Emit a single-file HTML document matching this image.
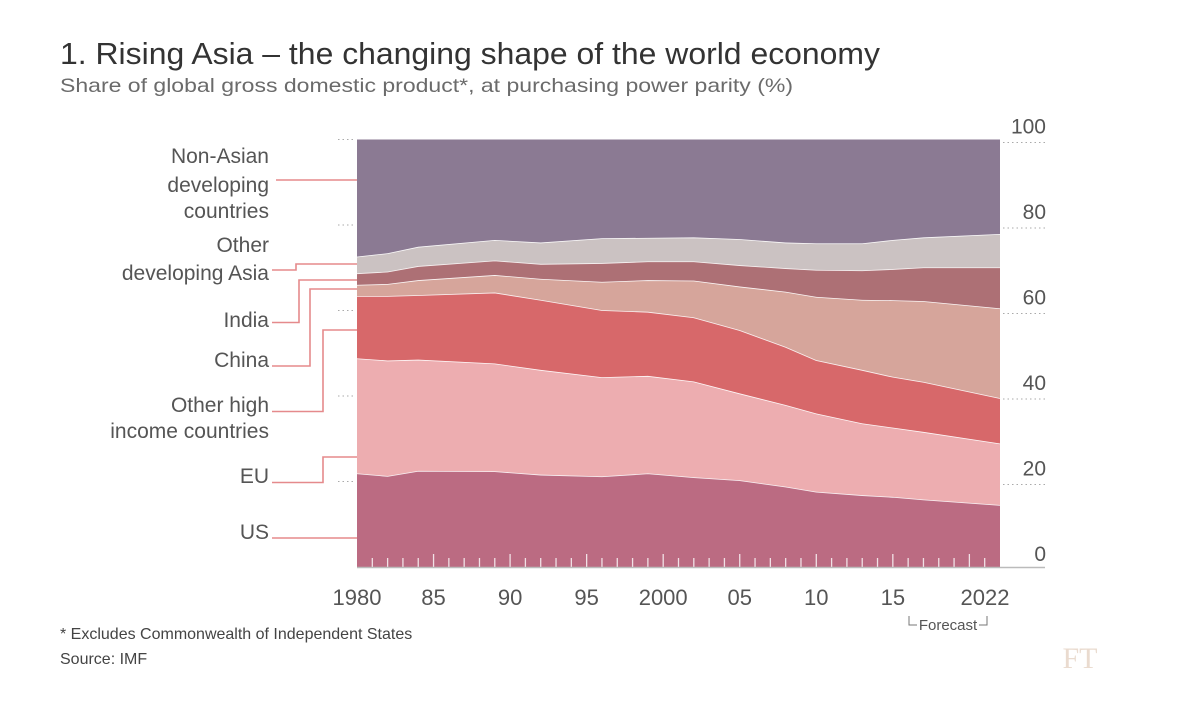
<!DOCTYPE html>
<html><head><meta charset="utf-8">
<style>
html,body{margin:0;padding:0;background:#fff;}
svg{display:block;font-family:"Liberation Sans",sans-serif;}
</style></head>
<body>
<svg id="chart" width="1200" height="711" viewBox="0 0 1200 711">
  <text x="60" y="64" font-size="31" fill="#333" textLength="820" lengthAdjust="spacingAndGlyphs">1. Rising Asia – the changing shape of the world economy</text>
  <text x="60" y="92" font-size="19.5" fill="#6b6b6b" textLength="733" lengthAdjust="spacingAndGlyphs">Share of global gross domestic product*, at purchasing power parity (%)</text>
  <g id="layers"></g>
  <g id="ticks"></g>
  <g id="yaxis"></g>
  <g id="xaxis"></g>
  <g id="labels"></g>
  <g>
    <path d="M909,616 V625 H917 M979,625 H987 V616" stroke="#777" stroke-width="1" fill="none"/>
    <text x="948" y="630" font-size="15" fill="#555" text-anchor="middle">Forecast</text>
  </g>
  <text x="60" y="639" font-size="16" fill="#444">* Excludes Commonwealth of Independent States</text>
  <text x="60" y="664" font-size="16" fill="#444">Source: IMF</text>
  <text x="1080" y="668" font-size="30" fill="#eadbcf" font-family="Liberation Serif, serif" text-anchor="middle">FT</text>
</svg>
<script>
const years = [1980,1982,1984,1989,1992,1996,1999,2002,2005,2008,2010,2013,2015,2017,2022];
const usShare = [21.9,21.3,22.5,22.4,21.6,21.2,21.9,21.0,20.3,18.8,17.6,16.8,16.4,15.8,14.5];
const euShare = [26.9,27.0,26.0,25.2,24.5,23.2,22.8,22.4,20.3,19.1,18.3,16.8,16.2,15.8,14.4];
const otherHighShare = [14.6,15.1,15.1,16.6,16.4,15.7,15.0,15.0,14.8,13.6,12.5,12.5,11.9,11.7,10.6];
const chinaShare = [2.6,2.8,3.5,4.1,4.9,6.6,7.4,8.6,10.2,12.9,14.8,16.4,17.9,18.9,21.0];
const indiaShare = [2.7,2.9,3.3,3.4,3.5,4.4,4.4,4.5,5.0,5.5,6.3,6.9,7.3,7.9,9.6];
const otherAsiaShare = [3.9,4.3,4.5,4.8,5.0,5.8,5.5,5.6,6.1,6.0,6.2,6.3,6.8,7.0,7.8];
const nonAsianShare = years.map((_,i)=>+(100-usShare[i]-euShare[i]-otherHighShare[i]-chinaShare[i]-indiaShare[i]-otherAsiaShare[i]).toFixed(1));
const yTicks = [0,20,40,60,80,100];
const xTickYears = [1980,1985,1990,1995,2000,2005,2010,2015,2022];
const xTickLabels = ["1980","85","90","95","2000","05","10","15","2022"];

const NS="http://www.w3.org/2000/svg";
const X0=357,X1=1000,Y0=567,Y100=139.5;
const xs=y=>X0+(y-1980)*(X1-X0)/42;
const ys=v=>Y0-v*(Y0-Y100)/100;
function mk(tag,attrs,parent){const e=document.createElementNS(NS,tag);for(const k in attrs)e.setAttribute(k,attrs[k]);parent.appendChild(e);return e;}

const series=[
 {n:"us",d:usShare,c:"#bb6b82"},
 {n:"eu",d:euShare,c:"#edadb0"},
 {n:"other-high-income",d:otherHighShare,c:"#d7686a"},
 {n:"china",d:chinaShare,c:"#d6a59b"},
 {n:"india",d:indiaShare,c:"#ad7075"},
 {n:"other-developing-asia",d:otherAsiaShare,c:"#cbc2c2"},
 {n:"non-asian-developing",d:nonAsianShare,c:"#8b7a93"}
];
const layers=document.getElementById('layers');
let base=years.map(()=>0);
series.forEach(s=>{
  const top=base.map((b,i)=>b+s.d[i]);
  let d="M"+years.map((y,i)=>xs(y)+","+ys(top[i])).join(" L");
  for(let i=years.length-1;i>=0;i--) d+=" L"+xs(years[i])+","+ys(base[i]);
  d+=" Z";
  const p=mk('path',{d:d,fill:s.c},layers);
  
  
  if(s.n!=="non-asian-developing"){
    const l=mk('path',{d:"M"+years.map((y,i)=>xs(y)+","+ys(top[i])).join(" L"),stroke:"#fff","stroke-width":1.6,fill:"none","stroke-opacity":0.9},layers);
    
    
  }
  base=top;
});

const tk=document.getElementById('ticks');
for(let y=1981;y<2022;y++){
  const big=y%5===0;
  const t=mk('line',{x1:xs(y),x2:xs(y),y1:Y0,y2:Y0-(big?13:9),stroke:"#fff","stroke-width":1.3,"stroke-opacity":0.8},tk);
  
  
}

const ya=document.getElementById('yaxis');
mk('line',{x1:X0,x2:1045,y1:Y0+0.5,y2:Y0+0.5,stroke:"#bbb","stroke-width":1.5},ya);
yTicks.forEach(v=>{
  if(v>0){
    mk('line',{x1:1003,x2:1045,y1:ys(v)+3,y2:ys(v)+3,stroke:"#aaa","stroke-width":1,"stroke-dasharray":"1.5,3"},ya);
    mk('line',{x1:338,x2:355,y1:ys(v),y2:ys(v),stroke:"#aaa","stroke-width":1,"stroke-dasharray":"1.5,3"},ya);
  }
  const t=mk('text',{x:1046,y:ys(v)-6,"font-size":21,fill:"#555","text-anchor":"end"},ya);
  t.textContent=v;
  
  
});

const xa=document.getElementById('xaxis');
xTickYears.forEach((y,i)=>{
  const t=mk('text',{x:y===2022?xs(y)-15:xs(y),y:605,"font-size":22,fill:"#555","text-anchor":"middle"},xa);
  t.textContent=xTickLabels[i];
  
  
});

const lb=document.getElementById('labels');
const labelDefs=[
 {n:"non-asian",lines:[["Non-Asian",163],["developing",192],["countries",218]],path:"M276,180 H357"},
 {n:"other-asia",lines:[["Other",252],["developing Asia",280]],path:"M272,270 H296 V264 H357"},
 {n:"india",lines:[["India",327]],path:"M272,322.5 H299 V280 H357"},
 {n:"china",lines:[["China",367]],path:"M272,366 H310 V289 H357"},
 {n:"other-high",lines:[["Other high",412],["income countries",438]],path:"M272,411.5 H323 V330 H357"},
 {n:"eu",lines:[["EU",483]],path:"M272,482.5 H323 V457 H357"},
 {n:"us",lines:[["US",539]],path:"M272,538 H357"}
];
labelDefs.forEach(L=>{
  const p=mk('path',{d:L.path,stroke:"#e58a8c","stroke-width":1.6,fill:"none"},lb);
  
  
  L.lines.forEach(([s,y])=>{
    const t=mk('text',{x:269,y:y,"font-size":21,fill:"#555","text-anchor":"end"},lb);
    t.textContent=s;
    
    
  });
});
</script>
</body></html>
